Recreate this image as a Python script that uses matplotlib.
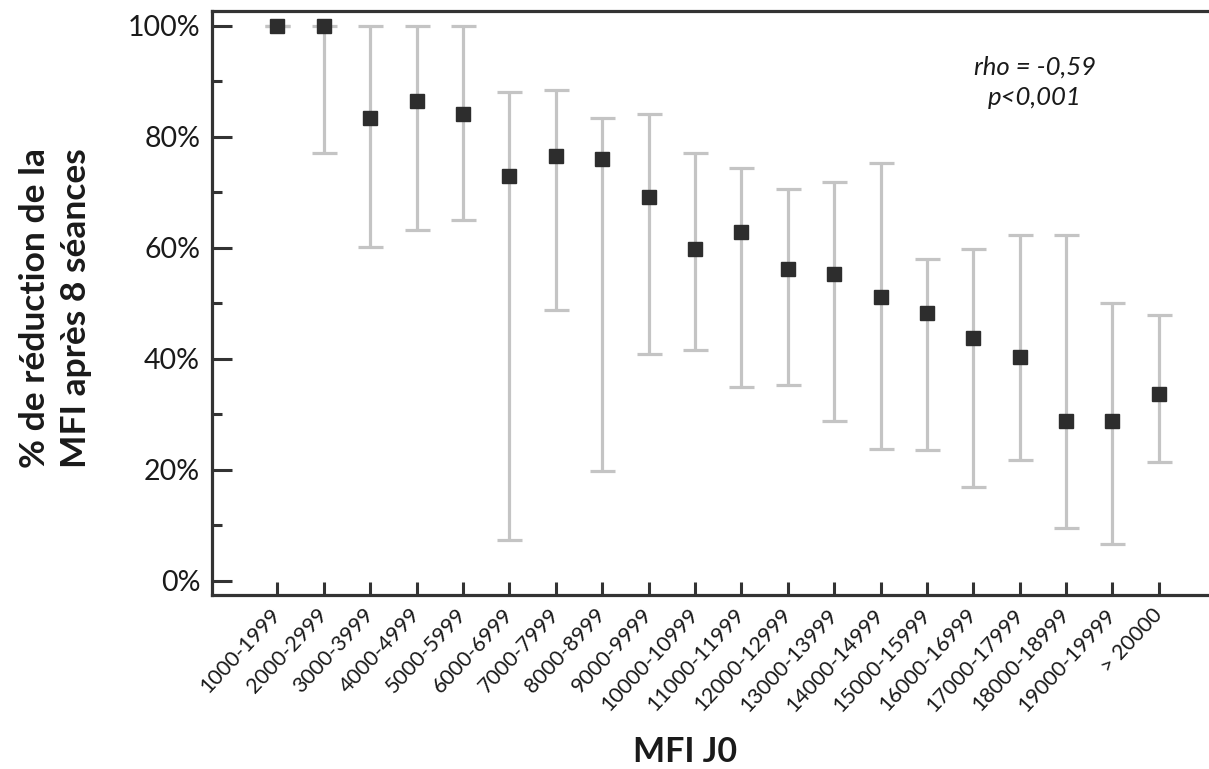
"""
MFI reduction after 8 sessions by baseline MFI (J0) class.
Median with interquartile range, one point per MFI class.
"""
import numpy as np
import matplotlib.pyplot as plt
from matplotlib.ticker import FixedLocator, PercentFormatter

plt.rcParams.update({
    'font.family': ['Lato', 'DejaVu Sans'],
    'figure.dpi': 100, 'savefig.dpi': 100,
})

MARKER_COLOR = '#2d2d2d'
BAR_COLOR = '#c4c4c4'
AXIS_COLOR = '#333333'
TEXT_COLOR = '#1a1a1a'

# MFI J0 classes
classes = ['1000-1999', '2000-2999', '3000-3999', '4000-4999', '5000-5999',
           '6000-6999', '7000-7999', '8000-8999', '9000-9999', '10000-10999',
           '11000-11999', '12000-12999', '13000-13999', '14000-14999',
           '15000-15999', '16000-16999', '17000-17999', '18000-18999',
           '19000-19999', '> 20000']

# % reduction (central value, upper and lower whisker)
reduction = [100, 100, 83.5, 86.5, 84.1, 73.0, 76.6, 76.0, 69.2, 59.9,
             62.8, 56.3, 55.4, 51.2, 48.3, 43.7, 40.4, 28.9, 28.8, 33.7]
upper = [100, 100, 100, 100, 100, 88.1, 88.5, 83.5, 84.2, 77.2,
         74.4, 70.6, 71.9, 75.3, 58.1, 59.9, 62.3, 62.3, 50.1, 47.9]
lower = [100, 77.2, 60.2, 63.2, 65.0, 7.4, 48.8, 19.9, 40.9, 41.6,
         35.0, 35.4, 28.9, 23.8, 23.6, 16.9, 21.8, 9.6, 6.7, 21.5]

x = np.arange(len(classes))
mid = np.array(reduction)
yerr = [mid - np.array(lower), np.array(upper) - mid]

fig = plt.figure(figsize=(12.09, 7.69))
ax = fig.add_axes([0.1753, 0.2263, 0.8247, 0.7594])

ax.errorbar(x, mid, yerr=yerr, fmt='none', ecolor=BAR_COLOR,
            elinewidth=2.3, capsize=9, capthick=2.3, zorder=2)
ax.plot(x, mid, linestyle='none', marker='s', markersize=9.5,
        color=MARKER_COLOR, zorder=3)

ax.set_xlim(-1.41, 20.08)
ax.set_ylim(-2.52, 102.7)

# spines
ax.spines['right'].set_visible(False)
for side in ['left', 'bottom', 'top']:
    ax.spines[side].set_linewidth(2.3)
    ax.spines[side].set_color(AXIS_COLOR)

# ticks
ax.set_xticks(x)
ax.set_xticklabels(classes, fontsize=15.5, color=TEXT_COLOR)
plt.setp(ax.get_xticklabels(), rotation=47, ha='right', va='center',
         rotation_mode='anchor')
ax.tick_params(axis='x', direction='in', length=9.5, width=2.2,
               color=AXIS_COLOR, pad=12)

ax.yaxis.set_major_locator(FixedLocator([0, 20, 40, 60, 80, 100]))
ax.yaxis.set_minor_locator(FixedLocator([10, 30, 50, 70, 90]))
ax.yaxis.set_major_formatter(PercentFormatter(decimals=0))
ax.tick_params(axis='y', which='major', direction='in', length=14.5,
               width=2.2, color=AXIS_COLOR, labelsize=20.5,
               labelcolor=TEXT_COLOR, pad=8.5)
ax.tick_params(axis='y', which='minor', direction='in', length=7.2,
               width=2.2, color=AXIS_COLOR)

# labels
ax.set_ylabel("% de réduction de la\nMFI après 8 séances", fontsize=25.5,
              fontweight='bold', color=TEXT_COLOR, linespacing=1.35,
              ha='center', va='center')
ax.yaxis.set_label_coords(-0.1565, 0.491)
ax.set_xlabel("MFI J0", fontsize=24.5, fontweight='bold', color=TEXT_COLOR,
              ha='center', va='center')
ax.xaxis.set_label_coords(0.475, -0.269)

ax.text(0.8255, 0.878, "rho = -0,59\np<0,001", transform=ax.transAxes,
        fontsize=18.5, fontstyle='italic', color=TEXT_COLOR,
        ha='center', va='center', linespacing=1.4)

fig.savefig("out.png")
plt.close()
